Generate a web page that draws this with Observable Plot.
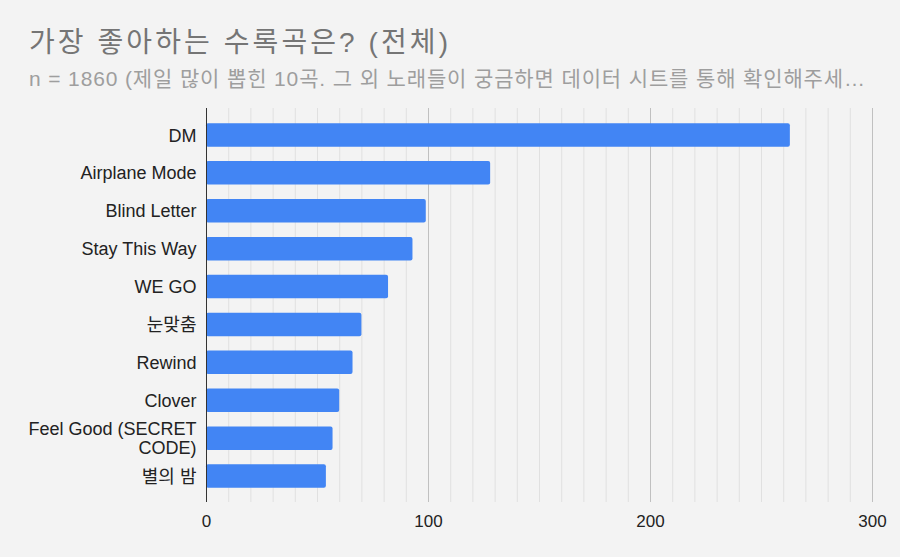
<!DOCTYPE html>
<html>
<head>
<meta charset="utf-8">
<script src="https://cdn.jsdelivr.net/npm/d3@7"></script>
<script src="https://cdn.jsdelivr.net/npm/@observablehq/plot@0.6"></script>
<style>
  html, body { margin: 0; padding: 0; background: #f3f3f3; width: 900px; height: 557px; overflow: hidden; }
  #wrap { position: relative; width: 900px; height: 557px; font-family: "Liberation Sans", Arial, "Noto Sans CJK KR", sans-serif; }
  #head { position: absolute; left: 0; top: 0; }
  #chart { position: absolute; left: 0; top: 100px; }
</style>
</head>
<body>
<div id="wrap">
  <svg id="head" width="900" height="100" xmlns="http://www.w3.org/2000/svg">
    <text x="29" y="52" font-size="28" fill="#757575" textLength="419" lengthAdjust="spacing" font-family="'Liberation Sans', Arial, 'Noto Sans CJK KR', sans-serif">가장 좋아하는 수록곡은? (전체)</text>
    <text x="29" y="86" font-size="21" fill="#9e9e9e" textLength="836" lengthAdjust="spacing" font-family="'Liberation Sans', Arial, 'Noto Sans CJK KR', sans-serif">n = 1860 (제일 많이 뽑힌 10곡. 그 외 노래들이 궁금하면 데이터 시트를 통해 확인해주세…</text>
  </svg>
  <div id="chart"></div>
</div>
<script>
const songs = ["DM", "Airplane Mode", "Blind Letter", "Stay This Way", "WE GO", "눈맞춤", "Rewind", "Clover", "Feel Good (SECRET CODE)", "별의 밤"];
const votes = [263, 128, 99, 93, 82, 70, 66, 60, 57, 54];
const majorTicks = [0, 100, 200, 300];
const minorTicks = d3.range(10, 300, 10).filter(v => v % 100 !== 0);

const data = songs.map((s, i) => ({song: s, votes: votes[i]}));
const wrapLabel = s => s === "Feel Good (SECRET CODE)" ? "Feel Good (SECRET\nCODE)" : s;
const font = "'Liberation Sans', Arial, 'Noto Sans CJK KR', sans-serif";

const chart = Plot.plot({
  width: 900,
  height: 457,
  marginTop: 8,
  marginBottom: 55,
  marginLeft: 206,
  marginRight: 28,
  style: {background: "transparent", fontFamily: font},
  x: {domain: [0, 300], label: null},
  y: {domain: songs, paddingInner: 0.38, paddingOuter: 0.19, insetTop: 8, insetBottom: 7, round: false, axis: null},
  marks: [
    Plot.ruleX(minorTicks, {stroke: "#e0e0e0", strokeWidth: 1}),
    Plot.ruleX(majorTicks.slice(1), {stroke: "#c0c0c0", strokeWidth: 1}),
    Plot.barX(data, {x: "votes", y: "song", fill: "#4285f4", rx: 2}),
    Plot.ruleX([0], {stroke: "#333", strokeWidth: 1}),
    Plot.axisX({ticks: majorTicks, tickSize: 0, tickPadding: 12, fontSize: 17, fill: "#222", tickFormat: d => String(d), label: null}),
    Plot.text(data, {x: 0, y: "song", text: d => wrapLabel(d.song), textAnchor: "end", dx: -10, fontSize: 18, fill: "#222", lineHeight: 1.05})
  ]
});
document.getElementById("chart").appendChild(chart);
</script>
</body>
</html>
